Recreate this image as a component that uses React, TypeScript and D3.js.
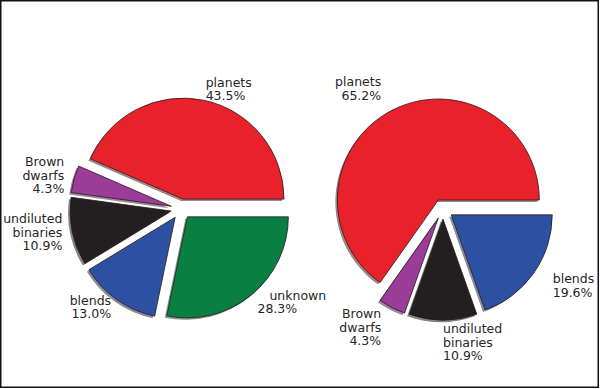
import React, { useRef, useEffect } from 'react';
import * as d3 from 'd3';

// counts out of 46 candidates
const leftLabels = ['planets', 'Brown\ndwarfs', 'undiluted\nbinaries', 'blends', '   unknown'];
const leftCounts = [20, 2, 5, 6, 13];
const leftColors = ['#e8212a', '#9b3c98', '#231f20', '#2c50a2', '#0a7f42'];

const rightLabels = ['planets', 'Brown\ndwarfs', 'undiluted\nbinaries', 'blends'];
const rightCounts = [30, 2, 5, 9];
const rightColors = ['#e8212a', '#9b3c98', '#231f20', '#2c50a2'];

const width = 600;
const height = 389;
const radius = 101;
const explode = 0.1;
const fontSize = 12.5;
const lineHeight = 13.5;

const App = () => {
  const svgRef = useRef<SVGSVGElement>(null);

  useEffect(() => {
    const svg = d3.select(svgRef.current);
    svg.selectAll('*').remove();

    svg.append('rect')
      .attr('x', 0.75).attr('y', 0.75)
      .attr('width', width - 2.5).attr('height', height - 2.5)
      .attr('fill', 'white')
      .attr('stroke', '#111')
      .attr('stroke-width', 1.5);

    const fmt = d3.format('.1f');

    const drawPie = (labels: string[], counts: number[], colors: string[], cx: number, cy: number, labelDist: number) => {
      const total = d3.sum(counts);
      // matplotlib style: start at 3 o'clock, go counter-clockwise
      const pie = d3.pie<number>().sort(null).startAngle(Math.PI / 2).endAngle(Math.PI / 2 - 2 * Math.PI);
      const arcs = pie(counts);
      const arc = d3.arc<d3.PieArcDatum<number>>().innerRadius(0).outerRadius(radius);

      const items = arcs.map((a, i) => {
        const theta = Math.PI / 2 - (a.startAngle + a.endAngle) / 2;
        const ox = explode * radius * Math.cos(theta);
        const oy = -explode * radius * Math.sin(theta);
        return { a, i, theta, x: cx + ox, y: cy + oy };
      });

      const g = svg.append('g');

      // shadows first
      g.selectAll('.shadow')
        .data(items)
        .enter()
        .append('path')
        .attr('class', 'shadow')
        .attr('transform', d => `translate(${d.x - 2}, ${d.y + 2})`)
        .attr('d', d => arc(d.a))
        .attr('fill', d => {
          const c = d3.rgb(colors[d.i]);
          return d3.rgb(c.r * 0.3, c.g * 0.3, c.b * 0.3).toString();
        })
        .attr('opacity', 0.5);

      g.selectAll('.wedge')
        .data(items)
        .enter()
        .append('path')
        .attr('class', 'wedge')
        .attr('transform', d => `translate(${d.x}, ${d.y})`)
        .attr('d', d => arc(d.a))
        .attr('fill', d => colors[d.i])
        .attr('stroke', '#2a1a1a')
        .attr('stroke-width', 0.8)
        .attr('stroke-linejoin', 'round');

      items.forEach(d => {
        const xt = d.x + labelDist * radius * Math.cos(d.theta);
        const yt = d.y - labelDist * radius * Math.sin(d.theta);
        const lines = (labels[d.i] + '\n' + fmt((counts[d.i] / total) * 100) + '%').split('\n');
        const left = xt - cx > -1e-6;
        const firstBase = yt - ((lines.length - 1) * lineHeight) / 2 + 0.265 * fontSize;
        const text = g.append('text')
          .attr('x', xt)
          .attr('y', firstBase)
          .attr('text-anchor', left ? 'start' : 'end')
          .attr('font-family', 'DejaVu Sans, sans-serif')
          .attr('font-size', fontSize)
          .attr('fill', '#262626')
          .style('white-space', 'pre');
        lines.forEach((ln, k) => {
          text.append('tspan')
            .attr('x', xt)
            .attr('y', firstBase + k * lineHeight)
            .text(ln);
        });
      });
    };

    drawPie(leftLabels, leftCounts, leftColors, 181, 209, 1.1);
    drawPie(rightLabels, rightCounts, rightColors, 443, 209, 1.23);
  }, []);

  return (
    <div>
      <svg ref={svgRef} width={width} height={height} style={{ position: 'absolute', left: 0, top: 0 }}></svg>
    </div>
  );
};

export default App;
